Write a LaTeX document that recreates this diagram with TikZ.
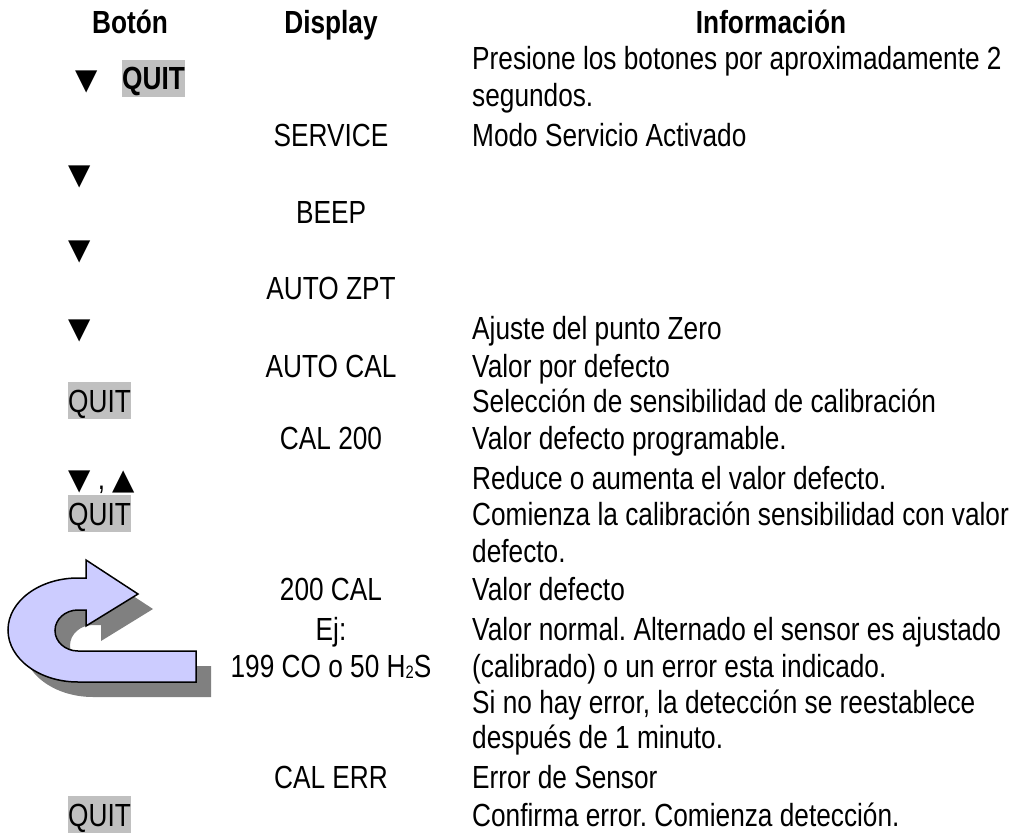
\documentclass[tikz,border=0pt]{standalone}
\usepackage{fontspec}
\setmainfont[FakeStretch=0.82]{Liberation Sans}
\newfontfamily\symfont{DejaVu Sans}
\definecolor{hlgray}{HTML}{C0C0C0}
\definecolor{shadowgray}{HTML}{808080}
\definecolor{arrowfill}{HTML}{CCCCFF}
\frenchspacing
\newcommand{\uturnpath}{(196,682) -- (78,682)
  .. controls (39.3,682) and (8,658.7) .. (8,630)
  .. controls (8,601.3) and (39.3,578) .. (78,578)
  -- (86,578) -- (86,560) -- (138,594) -- (86,626) -- (86,610) -- (78,610)
  .. controls (65.3,610) and (55,619.2) .. (55,630.5)
  .. controls (55,641.8) and (65.3,651) .. (78,651)
  -- (196,651) -- cycle}
\newcommand{\lowtwo}{\raisebox{-1.5pt}{\fontsize{18pt}{18pt}\selectfont 2}}
\begin{document}
\begin{tikzpicture}[x=1pt,y=-1pt,
  every node/.style={inner sep=0pt, font=\fontsize{32pt}{37pt}\selectfont},
  infotext/.style={anchor=base west},
  disptext/.style={anchor=base},
  headtext/.style={anchor=base, font=\fontsize{32pt}{37pt}\selectfont\bfseries},
  quitbox/.style={anchor=base west, fill=hlgray, text height=30pt, text depth=7pt},
  tribtn/.style={anchor=base west, font=\fontsize{29pt}{37pt}\symfont}]
\useasboundingbox (0,0) rectangle (1014,834);
% headers
\node[headtext] (h1) at (130,34) {Botón};
\node[headtext] (h2) at (331,34) {Display};
\node[headtext] (h3) at (771,34) {Información};
% button column
\node[tribtn] (b0) at (75,90) {▼};
\node[quitbox, font=\fontsize{32pt}{37pt}\selectfont\bfseries] (q0) at (122,90) {QUIT};
\node[tribtn] (b1) at (68,185) {▼};
\node[tribtn] (b2) at (68,259) {▼};
\node[tribtn] (b3) at (68,338) {▼};
\node[quitbox] (q1) at (68,412) {QUIT};
\node[anchor=base west] (b4) at (68,489) {{\fontsize{29pt}{37pt}\symfont ▼} , {\fontsize{29pt}{37pt}\symfont ▲}};
\node[quitbox] (q2) at (68,525) {QUIT};
\node[quitbox] (q3) at (68,826) {QUIT};
% display column
\node[disptext] (d1) at (331,147) {SERVICE};
\node[disptext] (d2) at (331,224) {BEEP};
\node[disptext] (d3) at (331,299) {AUTO ZPT};
\node[disptext] (d4) at (331,377) {AUTO CAL};
\node[disptext] (d5) at (331,449) {CAL 200};
\node[disptext] (d6) at (331,600) {200 CAL};
\node[disptext] (d7) at (331,640) {Ej:};
\node[disptext] (d8) at (331,677) {199 CO o 50 H\lowtwo S};
\node[disptext] (d9) at (331,788) {CAL ERR};
% info column
\node[infotext] (i1) at (472,70) {Presione los botones por aproximadamente 2};
\node[infotext] (i2) at (472,107) {segundos.};
\node[infotext] (i3) at (472,147) {Modo Servicio Activado};
\node[infotext] (i4) at (472,339) {Ajuste del punto Zero};
\node[infotext] (i5) at (472,377) {Valor por defecto};
\node[infotext] (i6) at (472,412) {Selección de sensibilidad de calibración};
\node[infotext] (i7) at (472,449) {Valor defecto programable.};
\node[infotext] (i8) at (472,489) {Reduce o aumenta el valor defecto.};
\node[infotext] (i9) at (472,525) {Comienza la calibración sensibilidad con valor};
\node[infotext] (i10) at (472,562) {defecto.};
\node[infotext] (i11) at (472,600) {Valor defecto};
\node[infotext] (i12) at (472,640) {Valor normal. Alternado el sensor es ajustado};
\node[infotext] (i13) at (472,677) {(calibrado) o un error esta indicado.};
\node[infotext] (i14) at (472,713) {Si no hay error, la detección se reestablece};
\node[infotext] (i15) at (472,748) {después de 1 minuto.};
\node[infotext] (i16) at (472,788) {Error de Sensor};
\node[infotext] (i17) at (472,826) {Confirma error. Comienza detección.};
% U-turn arrow with shadow
\fill[shadowgray, shift={(15,15)}] \uturnpath;
\filldraw[fill=arrowfill, draw=black, line width=1.5pt, line join=miter] \uturnpath;
\end{tikzpicture}
\end{document}
